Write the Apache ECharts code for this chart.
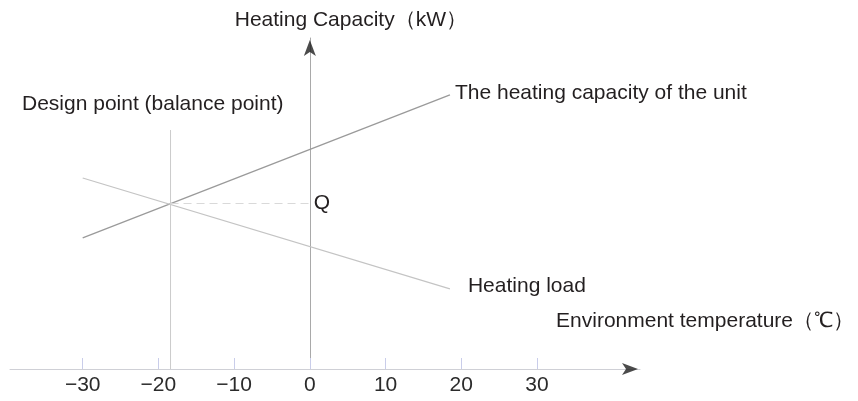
<!DOCTYPE html>
<html lang="en">
<head>
  <meta charset="UTF-8">
  <title>Heating capacity vs temperature</title>
  <style>
    html, body {margin: 0; padding: 0; background: #fff;}
    #chart {width: 858px; height: 401px;}
  </style>
</head>
<body>
  <div id="chart"></div>

  <script src="https://cdn.jsdelivr.net/npm/echarts@6/dist/echarts.min.js"></script>
  <script>
    // data (x: temperature, y: arbitrary capacity units 0-100)
    var xTicks = [-30, -20, -10, 0, 10, 20, 30];
    var lineEndsX = [-30, 18.5];
    var unitCapacity = [39.6, 82.8];
    var heatingLoad = [57.7, 24.2];
    var designPoint = [-18.4, 50];
    var designLineTop = 72.2;
    var xRange = [-39.6, 43.6];
    var yRange = [0, 100];

    var font = "'Liberation Sans', Arial, sans-serif";
    var txt = '#231f20';

    var chart = echarts.init(document.getElementById('chart'));

    function pairs(xs, ys) {
      return xs.map(function (x, i) { return [x, ys[i]]; });
    }

    var option = {
      animation: false,
      grid: {left: 10, right: 218, top: 38, bottom: 32},
      xAxis: {
        type: 'value',
        min: xRange[0],
        max: xRange[1],
        axisLine: {onZero: false, lineStyle: {color: '#cfd0d6', width: 1}},
        axisTick: {
          show: true,
          inside: true,
          length: 11,
          customValues: xTicks,
          lineStyle: {color: '#c9cdea'}
        },
        axisLabel: {
          customValues: xTicks,
          margin: 6,
          fontSize: 21,
          fontFamily: font,
          color: '#2b2b2b',
          formatter: function (v) { return String(v).replace('-', '\u2212'); }
        },
        splitLine: {show: false}
      },
      yAxis: {
        type: 'value',
        min: yRange[0],
        max: yRange[1],
        axisLine: {show: true, onZero: true, lineStyle: {color: '#a9a9a9', width: 1}},
        axisTick: {show: false},
        axisLabel: {show: false},
        splitLine: {show: false},
        name: 'Heating Capacity\uff08kW\uff09',
        nameLocation: 'end',
        nameGap: 7,
        nameTextStyle: {
          fontSize: 21,
          fontFamily: font,
          color: txt,
          align: 'center',
          padding: [0, 0, 0, 82]
        }
      },
      graphic: [{
        type: 'text',
        left: 22,
        top: 94,
        style: {text: 'Design point (balance point)', font: '21px ' + font, fill: txt}
      }, {
        type: 'text',
        right: 4,
        top: 311,
        style: {text: 'Environment temperature\uff08\u2103\uff09', font: '21px ' + font, fill: txt}
      }],
      series: [{
        name: 'unit',
        type: 'line',
        symbol: 'none',
        lineStyle: {color: '#9a9a9a', width: 1.3},
        endLabel: {
          show: true,
          formatter: 'The heating capacity of the unit',
          distance: 5,
          offset: [0, -2],
          fontSize: 21,
          fontFamily: font,
          color: txt
        },
        data: pairs(lineEndsX, unitCapacity)
      }, {
        name: 'load',
        type: 'line',
        symbol: 'none',
        lineStyle: {color: '#c4c4c4', width: 1.2},
        endLabel: {
          show: true,
          formatter: 'Heating load',
          distance: 4,
          offset: [14, -3],
          fontSize: 21,
          fontFamily: font,
          color: txt
        },
        data: pairs(lineEndsX, heatingLoad)
      }, {
        name: 'design',
        type: 'line',
        symbol: 'none',
        lineStyle: {color: '#cccccc', width: 1},
        data: [[designPoint[0], yRange[0]], [designPoint[0], designLineTop]]
      }, {
        name: 'q',
        type: 'line',
        symbol: 'none',
        lineStyle: {color: '#d9d9d9', width: 1.2, type: [8, 5]},
        endLabel: {
          show: true,
          formatter: 'Q',
          distance: 4,
          fontSize: 21,
          fontFamily: font,
          color: txt
        },
        data: [designPoint, [0, designPoint[1]]]
      }, {
        name: 'arrows',
        type: 'scatter',
        clip: false,
        silent: true,
        itemStyle: {color: '#1e1e1e'},
        data: [{
          value: [xRange[1], 0],
          symbol: 'arrow',
          symbolSize: [9, 16],
          symbolRotate: -90,
          symbolOffset: [-2, 0]
        }, {
          value: [0, yRange[1]],
          symbol: 'arrow',
          symbolSize: [9, 16],
          symbolOffset: [0, 2]
        }]
      }]
    };

    chart.setOption(option);
  </script>
</body>
</html>
